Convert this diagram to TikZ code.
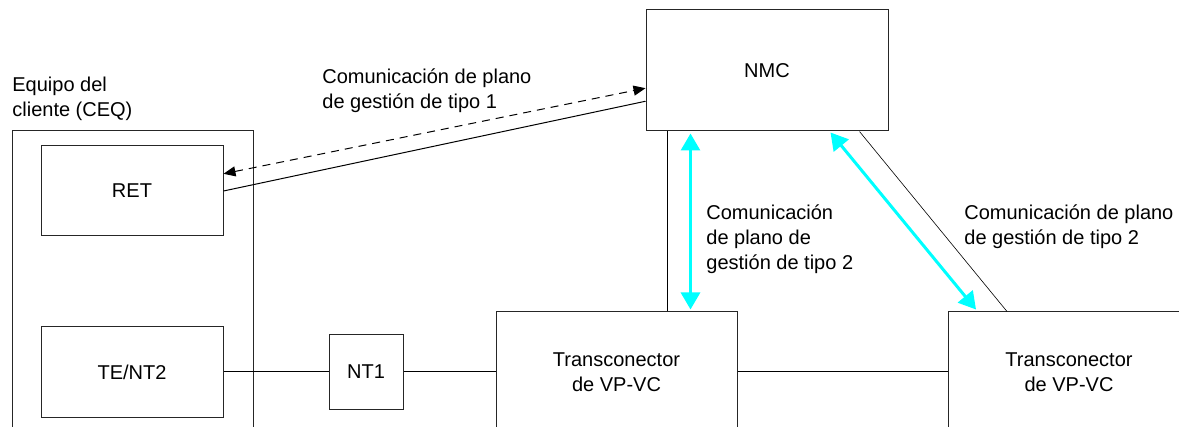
\documentclass[tikz,border=0pt]{standalone}
\usepackage{fontspec}
\setmainfont{Liberation Sans}
\usetikzlibrary{calc,arrows.meta}
\definecolor{brightcyan}{RGB}{0,255,255}
\tikzset{
  box/.style={draw=black!85, line width=0.5pt, rectangle, inner sep=0pt, align=center},
  lbl/.style={inner sep=0pt, align=left, anchor=base west},
  conn/.style={draw=black, line width=0.5pt},
  thinconn/.style={draw=black, line width=0.3pt},
  dasharrow/.style={draw=black, line width=0.5pt, dash pattern=on 4pt off 3pt, {Triangle[length=6pt,width=5pt]}-{Triangle[length=6pt,width=5pt]}},
  cyanarrow/.style={draw=brightcyan, line width=1.5pt, {Triangle[length=8.5pt,width=9.5pt]}-{Triangle[length=8.5pt,width=9.5pt]}}
}
\begin{document}
\begin{tikzpicture}[x=0.5pt,y=-0.5pt, every node/.style={font=\fontsize{10}{12.5}\selectfont}]
\useasboundingbox (0,0) rectangle (1179,427);
\clip (0,0) rectangle (1179,427);
\fill[white] (0,0) rectangle (1179,427);
% boxes
\node[box, minimum width=120.5pt, minimum height=164.5pt] (CEQ) at (132.5,295.5) {};
\node[box, minimum width=91pt, minimum height=45pt] (RET) at (132,191) {RET};
\node[box, minimum width=91pt, minimum height=45.5pt] (TENT) at (132,372) {TE/NT2};
\node[box, minimum width=37pt, minimum height=37.5pt] (NT1) at (366,372) {NT1};
\node[box, minimum width=121pt, minimum height=60.5pt] (NMC) at (767,70.5) {NMC};
\node[box, minimum width=120.5pt, minimum height=60pt] (T1) at (616.5,372) {Transconector\\de VP-VC};
\node[box, minimum width=120.5pt, minimum height=60pt] (T2) at (1069,372) {Transconector\\de VP-VC};
% labels (base = baseline of last line)
\node[lbl] (LCEQ) at (12,117) {Equipo del\\cliente (CEQ)};
\node[lbl] (L1) at (322,109) {Comunicación de plano\\de gestión de tipo 1};
\node[lbl] (L2) at (706,270) {Comunicación\\de plano de\\gestión de tipo 2};
\node[lbl] (L3) at (964,245) {Comunicación de plano\\de gestión de tipo 2};
% connectors
\draw[conn] (TENT.east) -- (NT1.west);
\draw[conn] (NT1.east) -- (T1.west);
\draw[conn] (T1.east) -- (T2.west);
\draw[conn] (RET.east) -- ($(NMC.north west)!0.752!(NMC.south west)$);
\draw[dasharrow] ($(RET.north east)!0.311!(RET.south east)$) -- ($(NMC.north west)!0.645!(NMC.south west)$);
\draw[conn] ($(NMC.south west)+(22,0)$) -- ($(T1.north west)+(172,0)$);
\draw[cyanarrow] ($(NMC.south west)+(45,2)$) -- ($(T1.north west)+(195,-2)$);
\draw[cyanarrow] ($(NMC.south west)+(185,1)$) -- ($(T2.north west)+(28,-2)$);
\draw[thinconn] ($(NMC.south west)+(214,0)$) -- ($(T2.north west)+(59,0)$);
\end{tikzpicture}
\end{document}
